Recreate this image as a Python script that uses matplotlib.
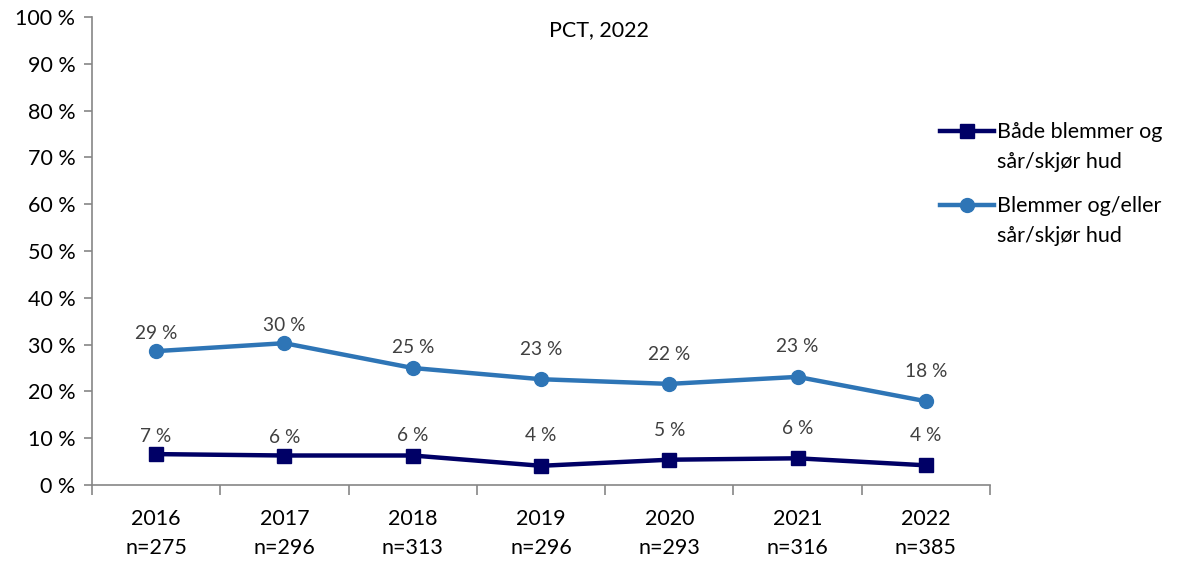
import numpy as np
import matplotlib
matplotlib.use("Agg")
from matplotlib import pyplot as plt
from matplotlib.lines import Line2D

years = ["2016", "2017", "2018", "2019", "2020", "2021", "2022"]
n_values = [275, 296, 313, 296, 293, 316, 385]
both = [6.6, 6.3, 6.3, 4.1, 5.4, 5.7, 4.2]
either = [28.6, 30.3, 25.0, 22.6, 21.6, 23.1, 17.9]

# distance (px) from point to label centre
label_lift = [18, 18, 20, 30, 29, 30, 30]

plt.rcParams['font.family'] = ['Lato', 'DejaVu Sans']

fig = plt.figure(figsize=(11.82, 5.61), dpi=100)
ax = fig.add_axes([0.0778, 0.1355, 0.7598, 0.8342])

x = np.arange(len(years))
ax.plot(x, both, color="#000066", lw=3.2, marker="s", ms=10,
        label="Både blemmer og\nsår/skjør hud")
ax.plot(x, either, color="#2E75B6", lw=3.2, marker="o", ms=10,
        label="Blemmer og/eller\nsår/skjør hud")

# value labels above each point
for series in (both, either):
    for xi, v, lift in zip(x, series, label_lift):
        ax.annotate(f"{v:.0f} %", (xi, v), xytext=(0, lift * 0.72),
                    textcoords="offset points", ha="center", va="center",
                    fontsize=13.8, color="#404040")

ax.set_xlim(-0.5, len(years) - 0.5)
ax.set_ylim(0, 100)
ax.set_yticks(np.arange(0, 101, 10))
ax.set_yticklabels([f"{t} %" for t in range(0, 101, 10)], fontsize=15.5)

ax.set_xticks(x)
ax.set_xticklabels([f"{y}\nn={n}" for y, n in zip(years, n_values)], fontsize=15.5,
                   linespacing=1.6)
ax.set_xticks(np.arange(-0.5, len(years)), minor=True)
ax.tick_params(axis="x", which="major", length=0, pad=17)
ax.tick_params(axis="x", which="minor", length=7, color="#868686", width=1.2)
ax.tick_params(axis="y", length=6, color="#868686", width=1.2, pad=6)

for s in ["top", "right"]:
    ax.spines[s].set_visible(False)
for s in ["left", "bottom"]:
    ax.spines[s].set_color("#868686")
    ax.spines[s].set_linewidth(1.2)

fig.text(599 / 1182, 1 - 30 / 561, "PCT, 2022", ha="center", va="center",
         fontsize=15.5)

leg = ax.legend(loc="upper left", bbox_to_anchor=(0.935, 0.795), frameon=False,
                fontsize=15.5, handlelength=2.5, handletextpad=0.15,
                labelspacing=1.1, borderaxespad=0)
for t in leg.get_texts():
    t.set_linespacing(1.65)
# put the legend keys level with the first line of each label
for ln in leg.findobj(Line2D):
    ln.set_ydata(np.asarray(ln.get_ydata()) + 11.5)

fig.savefig("out.png", dpi=100)
